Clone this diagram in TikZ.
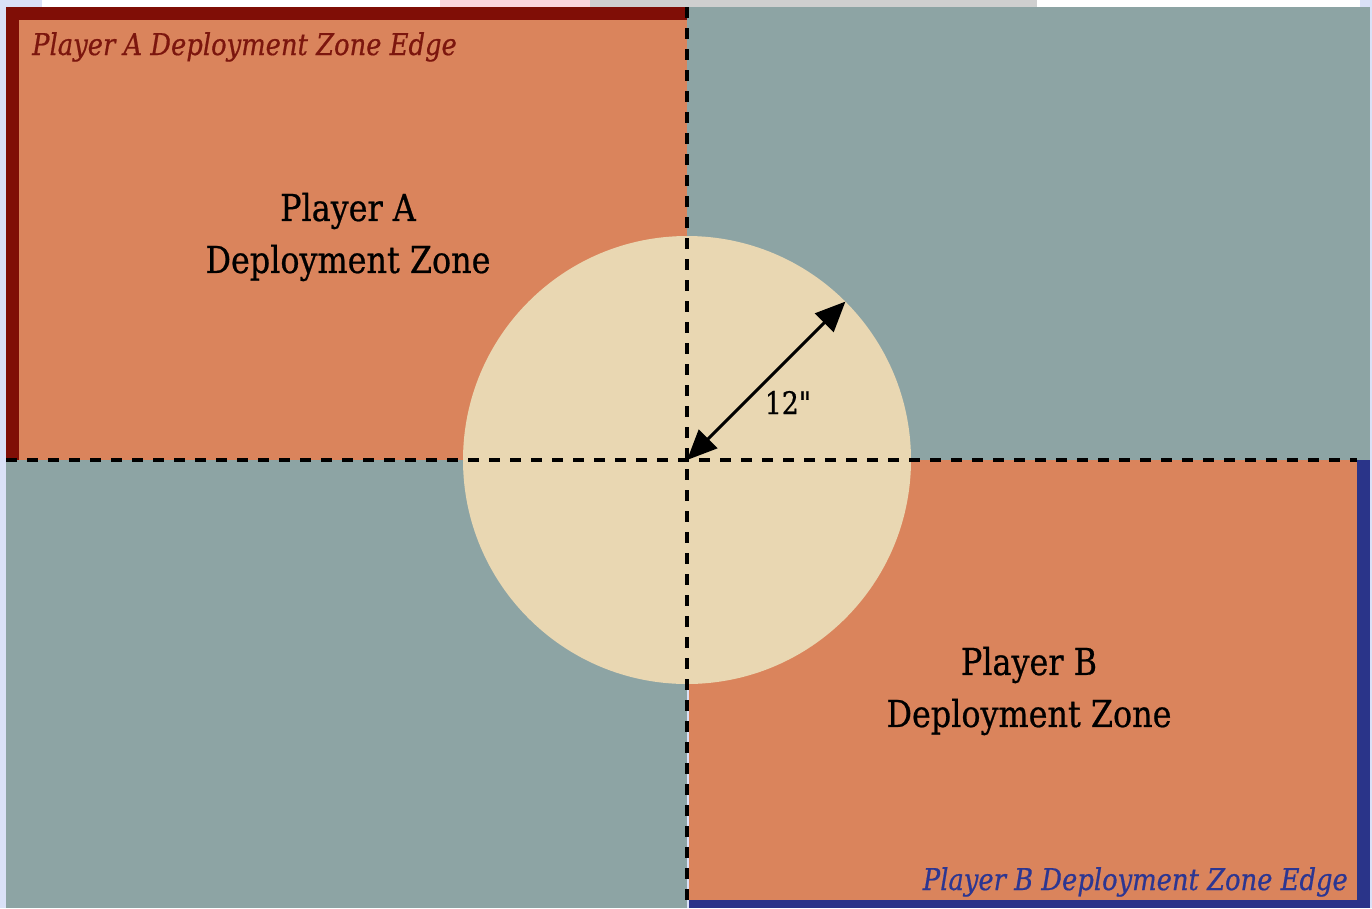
\documentclass[tikz,border=0pt]{standalone}
\usepackage{fontspec}
\newfontfamily\twfont[FakeStretch=0.86, FakeBold=0.6]{DejaVu Serif}
\usetikzlibrary{arrows.meta}
\definecolor{bglav}{RGB}{218,225,247}
\definecolor{stripgray}{RGB}{207,207,207}
\definecolor{strippink}{RGB}{252,214,222}
\definecolor{zoneorange}{RGB}{218,132,92}
\definecolor{tableteal}{RGB}{141,164,164}
\definecolor{centercream}{RGB}{233,215,178}
\definecolor{edgered}{RGB}{128,14,6}
\definecolor{edgeblue}{RGB}{42,52,137}
\definecolor{textred}{RGB}{124,22,14}
\definecolor{textblue}{RGB}{44,54,146}
\tikzset{
  zonetext/.style={font=\twfont\fontsize{37}{52}\selectfont, align=center, inner sep=0pt, text=black},
  edgetext/.style={font=\twfont\itshape\fontsize{30}{36}\selectfont, inner sep=0pt},
  dashline/.style={draw=black, line width=3.4pt, dash pattern=on 11pt off 10pt},
  dimarrow/.style={draw=black, line width=3pt, {Triangle[length=30pt,width=26pt]}-{Triangle[length=30pt,width=26pt]}},
  dimtext/.style={font=\twfont\fontsize{31}{36}\selectfont, inner sep=0pt}
}
\begin{document}
\begin{tikzpicture}[x=1pt,y=-1pt]
\useasboundingbox (0,0) rectangle (1372,908);
% background outside the board
\fill[bglav] (0,0) rectangle (1372,908);
\fill[white] (42,0) rectangle (1360,7);
\fill[strippink] (440,0) rectangle (590,7);
\fill[stripgray] (590,0) rectangle (1037,7);
% table quarters
\fill[tableteal] (687,7) rectangle (1370,460);
\fill[tableteal] (6,460) rectangle (687,908);
% player A zone with edge
\fill[edgered] (6,7) rectangle (687,460);
\fill[zoneorange] (19,20) rectangle (687,460);
% player B zone with edge
\fill[edgeblue] (689,460) rectangle (1370,908);
\fill[zoneorange] (689,460) rectangle (1357,900);
% central circle
\node[circle, fill=centercream, minimum size=448pt, inner sep=0pt, outer sep=0pt] (c) at (687,460) {};
% centre lines
\coordinate (vtop) at (687,7);
\coordinate (vbot) at (687,908);
\coordinate (hleft) at (6,460);
\coordinate (hright) at (1357,460);
\draw[dashline] (vtop) -- (vbot);
\draw[dashline] (hleft) -- (hright);
% radius arrow
\draw[dimarrow] (c.center) -- (c.45);
\node[dimtext, anchor=base] (r) at (788,414) {12"};
% labels
\node[zonetext] (za) at (348,237) {Player A\\Deployment Zone};
\node[zonetext] (zb) at (1029,691) {Player B\\Deployment Zone};
\node[edgetext, text=textred, anchor=base west] (ea) at (32,55) {Player A Deployment Zone Edge};
\node[edgetext, text=textblue, anchor=base east] (eb) at (1348,890) {Player B Deployment Zone Edge};
\end{tikzpicture}
\end{document}
